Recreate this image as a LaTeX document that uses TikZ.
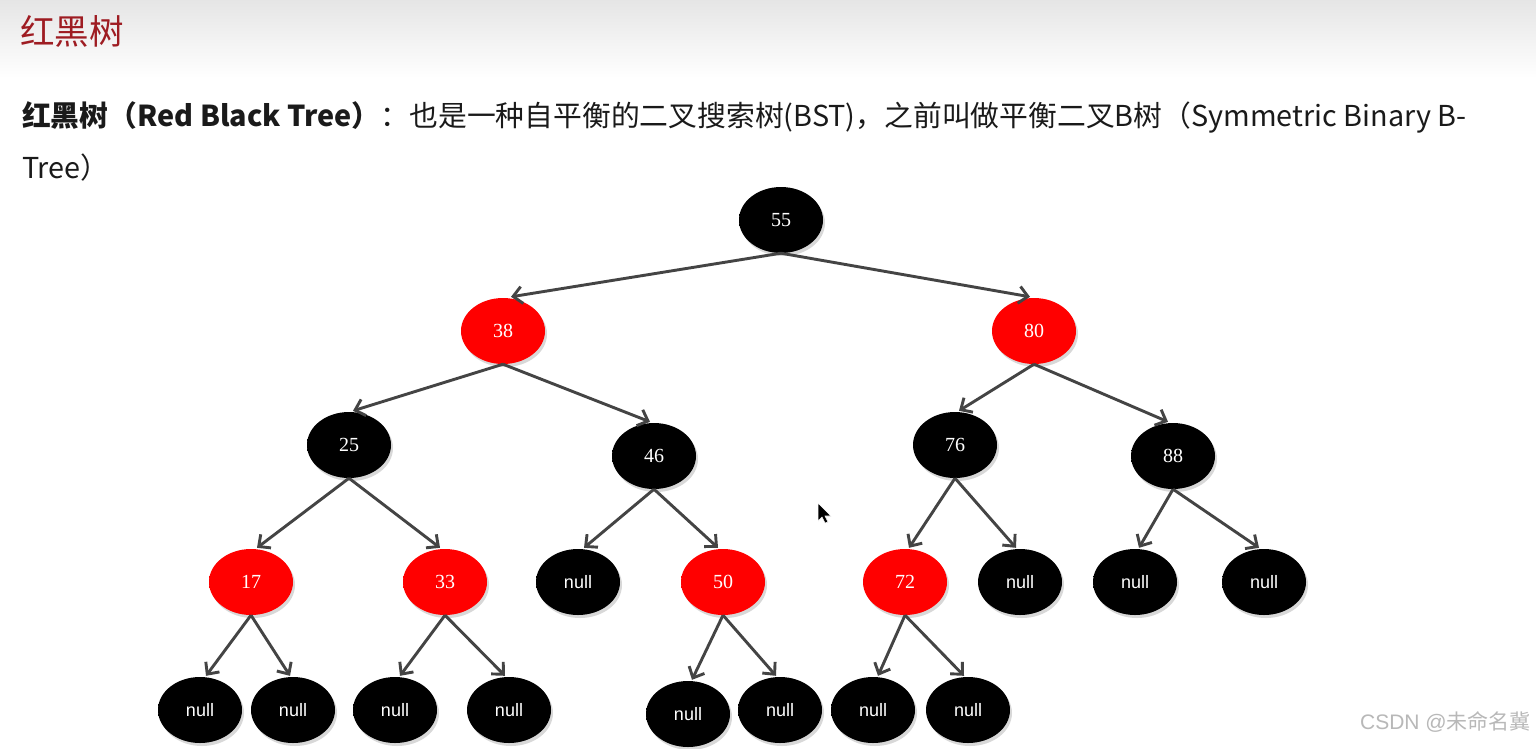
\documentclass[tikz,border=0pt]{standalone}
\usepackage{fontspec}
\setmainfont{Noto Sans CJK SC}
\newfontfamily\cjkfont{Noto Sans CJK SC}
\newfontfamily\numfont{Liberation Serif}
\newfontfamily\nulfont{Liberation Sans}
\usetikzlibrary{shapes.geometric,arrows.meta,shadows}
\definecolor{titlered}{HTML}{9E1C22}
\definecolor{bodytext}{HTML}{1A1A1A}
\definecolor{edgegray}{HTML}{444444}
\definecolor{rbA}{HTML}{FF0000}
\definecolor{rbB}{HTML}{E60000}
\definecolor{rbC}{HTML}{7A0000}
\definecolor{bkA}{HTML}{000000}
\definecolor{bkB}{HTML}{141414}
\definecolor{bkC}{HTML}{505050}
\pgfdeclareradialshading{redball}{\pgfpoint{0bp}{0bp}}{color(0bp)=(rbA); color(38bp)=(rbA); color(46bp)=(rbB); color(50bp)=(rbC)}
\pgfdeclareradialshading{blackball}{\pgfpoint{0bp}{0bp}}{color(0bp)=(bkA); color(42bp)=(bkA); color(47bp)=(bkB); color(50bp)=(bkC)}
\tikzset{
  ball/.style={ellipse, minimum width=84pt, minimum height=66pt, inner sep=0pt,
    drop shadow={shadow xshift=2pt, shadow yshift=-3pt, opacity=0.3}},
  rnode/.style={ball, shading=redball, text=white, font=\numfont\fontsize{20}{22}\selectfont},
  bnode/.style={ball, shading=blackball, text=white, font=\numfont\fontsize{20}{22}\selectfont},
  nnode/.style={ball, shading=blackball, text=white, font=\nulfont\fontsize{18}{20}\selectfont},
  edge/.style={draw=edgegray, line width=2.9pt, -{Straight Barb[length=9pt,width=17pt,line width=2.9pt]}},
}
\begin{document}
\begin{tikzpicture}[x=1pt,y=-1pt]
\useasboundingbox (0,0) rectangle (1536,748);
\fill[white] (0,0) rectangle (1536,748);
\shade[top color=black!10, bottom color=white] (0,0) rectangle (1536,78);
% title and text
\node[anchor=base west, inner sep=0pt, text=titlered, font=\cjkfont\fontsize{34.5}{40}\selectfont] (title) at (20,44) {红黑树};
\node[anchor=base west, inner sep=0pt, text=bodytext, font=\fontsize{28.8}{34}\selectfont] (line1) at (22,126)
  {{\bfseries 红黑树（Red Black Tree）}：也是一种自平衡的二叉搜索树(BST)，之前叫做平衡二叉B树（Symmetric Binary B-};
\node[anchor=base west, inner sep=0pt, text=bodytext, font=\fontsize{28.8}{34}\selectfont] (line2) at (22,178) {Tree）};
% nodes
\node[bnode] (n55) at (781,220) {55};
\node[rnode] (n38) at (503,331) {38};
\node[rnode] (n80) at (1034,331) {80};
\node[bnode] (n25) at (349,445) {25};
\node[bnode] (n46) at (654,456) {46};
\node[bnode] (n76) at (955,445) {76};
\node[bnode] (n88) at (1173,456) {88};
\node[rnode] (n17) at (251,582) {17};
\node[rnode] (n33) at (445,582) {33};
\node[nnode] (x46) at (578,582) {null};
\node[rnode] (n50) at (723,582) {50};
\node[rnode] (n72) at (905,582) {72};
\node[nnode] (x76) at (1020,582) {null};
\node[nnode] (x88a) at (1135,582) {null};
\node[nnode] (x88b) at (1264,582) {null};
\node[nnode] (x17a) at (200,710) {null};
\node[nnode] (x17b) at (293,710) {null};
\node[nnode] (x33a) at (395,710) {null};
\node[nnode] (x33b) at (509,710) {null};
\node[nnode] (x50a) at (688,714) {null};
\node[nnode] (x50b) at (780,710) {null};
\node[nnode] (x72a) at (873,710) {null};
\node[nnode] (x72b) at (968,710) {null};
% edges
\foreach \p/\c/\s in {n55/n38/8, n55/n80/-4, n38/n25/4, n38/n46/-4, n80/n76/4, n80/n88/-5,
  n25/n17/6, n25/n33/-5, n46/x46/6, n46/n50/-5, n76/n72/4, n76/x76/-4, n88/x88a/4, n88/x88b/-5,
  n17/x17a/6, n17/x17b/-3, n33/x33a/5, n33/x33b/-4, n50/x50a/4, n50/x50b/-4, n72/x72a/5, n72/x72b/-4}
  \draw[edge] (\p.south) -- ([xshift=\s pt, yshift=1pt]\c.north);
% mouse cursor
\fill[black, draw=white, line width=0.6pt] (818,503) -- (818,521) -- (822,517) -- (825,523) -- (828,522) -- (825,516) -- (831,516) -- cycle;
% watermark
\node[anchor=base east, inner sep=0pt, text=black!28, font=\fontsize{21}{24}\selectfont] (wm) at (1531,729) {{\nulfont CSDN @}未命名冀};
\end{tikzpicture}
\end{document}
